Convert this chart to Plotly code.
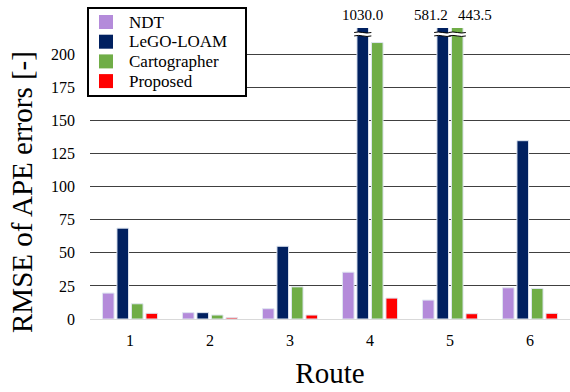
import plotly.graph_objects as go

# RMSE of APE errors per route for each method
routes = [1, 2, 3, 4, 5, 6]
route_labels = ["1", "2", "3", "4", "5", "6"]
ndt = [19.6, 4.8, 7.8, 35.4, 14.3, 23.6]
lego_loam = [68.7, 4.8, 55.0, 1030.0, 581.2, 134.8]
cartographer = [11.5, 3.0, 24.3, 209.0, 443.5, 23.1]
proposed = [4.3, 1.0, 3.0, 15.8, 4.0, 4.3]

series = [
    ("NDT", ndt, "#B48BDA"),
    ("LeGO-LOAM", lego_loam, "#002060"),
    ("Cartographer", cartographer, "#70AD47"),
    ("Proposed", proposed, "#FF0000"),
]

Y_MAX = 220
BARGAP = 0.275
GROUPGAP = 0.2
slot = (1 - BARGAP) / len(series)

W, H = 570, 392
ML, MR, MT, MB = 90, 0, 28, 73
PW, PH = W - ML - MR, H - MT - MB


def px_x(px):
    return (px - ML) / PW


def px_y(py):
    return (H - MB - py) / PH


serif = "Liberation Serif"

fig = go.Figure()
for name, vals, color in series:
    fig.add_trace(go.Bar(
        name=name, x=routes, y=vals, showlegend=False,
        marker=dict(color=color, line=dict(color="#dfe6f1", width=1)),
    ))

shapes = []
annotations = []

# Axis-break marks and value labels for bars that exceed the axis range
over = []
for si, (name, vals, color) in enumerate(series):
    for ri, v in enumerate(vals):
        if v > Y_MAX:
            over.append((ri, si, v))
label_shift = {}
for ri, si, v in over:
    same_route = [o for o in over if o[0] == ri]
    if len(same_route) > 1:
        label_shift[(ri, si)] = -12 if si == min(o[1] for o in same_route) else 18
    else:
        label_shift[(ri, si)] = 0

for ri, si, v in over:
    cx = routes[ri] + (si - (len(series) - 1) / 2) * slot
    hw = slot * (1 - GROUPGAP) / 2 + 0.035
    x0, x1 = cx - hw, cx + hw
    yb = 214.0
    a = 1.4
    band = 2.6
    dx = (x1 - x0) / 3
    top = f"M{x0},{yb + band} C{x0 + dx},{yb + band + a} {x1 - dx},{yb + band - a} {x1},{yb + band}"
    bot = f"M{x0},{yb} C{x0 + dx},{yb + a} {x1 - dx},{yb - a} {x1},{yb}"
    fill = (f"M{x0},{yb} C{x0 + dx},{yb + a} {x1 - dx},{yb - a} {x1},{yb} "
            f"L{x1},{yb + band} C{x1 - dx},{yb + band - a} {x0 + dx},{yb + band + a} {x0},{yb + band} Z")
    shapes.append(dict(type="path", path=fill, xref="x", yref="y",
                       fillcolor="white", line=dict(width=0), layer="above"))
    for p in (top, bot):
        shapes.append(dict(type="path", path=p, xref="x", yref="y",
                           line=dict(color="black", width=1), layer="above"))
    annotations.append(dict(
        x=cx, y=px_y(15), xref="x", yref="paper", text=f"{v:.1f}",
        showarrow=False, xshift=label_shift[(ri, si)],
        font=dict(family=serif, size=15, color="black"),
        xanchor="center", yanchor="middle",
    ))

# Legend box with colour swatches
shapes.append(dict(type="rect", xref="paper", yref="paper",
                   x0=px_x(88), x1=px_x(246), y0=px_y(96), y1=px_y(8),
                   fillcolor="white", line=dict(color="black", width=2), layer="above"))
for i, (name, vals, color) in enumerate(series):
    cy = 22 + i * 19.7
    shapes.append(dict(type="rect", xref="paper", yref="paper",
                       x0=px_x(99), x1=px_x(113), y0=px_y(cy + 7), y1=px_y(cy - 7),
                       fillcolor=color, line=dict(width=0), layer="above"))
    annotations.append(dict(
        x=px_x(127), y=px_y(cy), xref="paper", yref="paper", text=name,
        showarrow=False, xanchor="left", yanchor="middle",
        font=dict(family=serif, size=17, color="black"),
    ))

# Vertical axis title
annotations.append(dict(
    x=px_x(22), y=px_y(192), xref="paper", yref="paper",
    text="RMSE of APE errors [-]", textangle=-90, showarrow=False,
    xanchor="center", yanchor="middle",
    font=dict(family=serif, size=29, color="black"),
))

fig.update_layout(
    width=W, height=H,
    margin=dict(l=ML, r=MR, t=MT, b=MB),
    paper_bgcolor="white", plot_bgcolor="white",
    barmode="group", bargap=BARGAP, bargroupgap=GROUPGAP,
    font=dict(family=serif, color="black"),
    shapes=shapes, annotations=annotations,
    showlegend=False,
    xaxis=dict(
        range=[0.5, 6.5], tickvals=routes, ticktext=route_labels,
        showgrid=False, zeroline=False, showline=False,
        tickfont=dict(family=serif, size=16, color="black"), ticklabelstandoff=10,
        title=dict(text="Route", font=dict(family=serif, size=29, color="black"), standoff=14),
    ),
    yaxis=dict(
        range=[0, Y_MAX], tickvals=list(range(0, 201, 25)),
        showgrid=True, gridcolor="#404040", gridwidth=1,
        zeroline=True, zerolinecolor="#d9d9d9", zerolinewidth=1,
        showline=False,
        tickfont=dict(family=serif, size=16, color="black"), ticklabelstandoff=14,
    ),
)

fig.write_html("out.html")
